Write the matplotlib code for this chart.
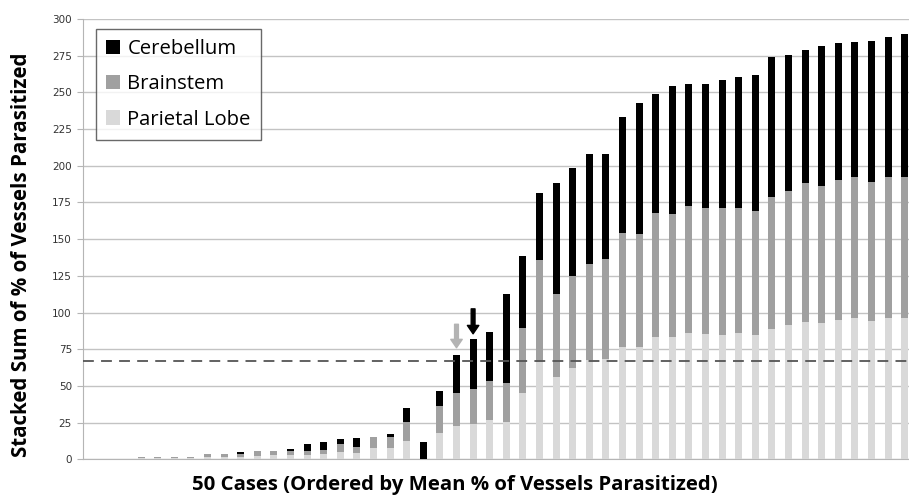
import matplotlib.pyplot as plt
import numpy as np

# segment values per case (50 cases, ordered by mean % of vessels parasitized)
parietal = [0, 0, 0, 1.0, 1.0, 1.0, 1.0, 1.5, 1.5, 1.7,
            2.5, 2.8, 3.0, 3.0, 3.5, 5.3, 4.6, 7.5, 7.5, 12.5,
            0, 18.2, 23.0, 24.0, 26.6, 25.7, 45.0, 66.6, 56.4, 62.5,
            67.7, 68.2, 76.8, 76.8, 83.6, 83.6, 86.3, 85.4, 84.7, 85.9,
            84.7, 89.0, 91.2, 93.8, 92.7, 95.0, 96.1, 94.3, 96.1, 96.1]
brainstem = [0, 0, 0, 0.5, 0.5, 0.5, 0.5, 2.0, 2.0, 1.7,
             3.0, 2.9, 2.5, 2.8, 2.5, 5.4, 4.1, 8.0, 7.8, 12.6,
             0, 18.4, 22.5, 23.7, 26.6, 26.6, 44.8, 69.1, 56.1, 62.3,
             65.5, 68.2, 77.3, 76.6, 84.1, 83.6, 86.4, 85.7, 86.4, 85.0,
             84.6, 89.5, 91.7, 94.5, 93.5, 95.3, 96.2, 94.5, 96.4, 96.1]
cerebellum = [0, 0, 0, 0, 0, 0, 0, 0, 0, 1.8,
              0, 0, 1.5, 4.5, 5.7, 3.2, 5.9, 0, 2.0, 9.7,
              11.6, 9.8, 25.7, 34.2, 33.4, 60.5, 48.4, 45.7, 75.5, 73.7,
              74.8, 71.8, 79.1, 89.7, 81.3, 87.3, 82.7, 84.6, 87.5, 89.5,
              92.5, 95.6, 92.5, 90.3, 95.1, 93.3, 92.2, 96.2, 95.1, 97.5]
threshold = 67.3
y_ticks = np.arange(0, 301, 25)

# arrows: (case index, start value, end value, colour)
arrows = [(22, 92, 76, '#b3b3b3'), (23, 102.5, 85.5, '#000000')]

cases = np.arange(len(parietal))
p = np.array(parietal)
b = np.array(brainstem)
c = np.array(cerebellum)

fig = plt.figure(figsize=(9.09, 4.97), dpi=100)
ax = fig.add_axes([83 / 909, 37.7 / 497, 830 / 909, 440.3 / 497])

width = 0.42
ax.bar(cases, c, width, bottom=p + b, color='#000000', label='Cerebellum', zorder=3)
ax.bar(cases, b, width, bottom=p, color='#a0a0a0', label='Brainstem', zorder=3)
ax.bar(cases, p, width, color='#d9d9d9', label='Parietal Lobe', zorder=3)

ax.axhline(threshold, color='#555555', lw=1.3, dashes=(6, 4), zorder=4)

for i, start, end, col in arrows:
    ax.annotate('', xy=(i, end), xytext=(i, start),
                arrowprops=dict(arrowstyle='simple,head_width=0.75,head_length=0.55,tail_width=0.25',
                                color=col, mutation_scale=11, shrinkA=0, shrinkB=0),
                zorder=5)

ax.set_xlim(-0.5, len(cases) - 0.5)
ax.set_ylim(0, 300)
ax.set_yticks(y_ticks)
ax.set_xticks([])
ax.yaxis.grid(True, color='#c3c3c3', lw=1)
ax.set_axisbelow(True)
for side in ['top', 'right']:
    ax.spines[side].set_visible(False)
for side in ['left', 'bottom']:
    ax.spines[side].set_color('#b5b5b5')
ax.tick_params(axis='y', length=4, color='#b5b5b5', labelsize=7.5, labelcolor='#333333', pad=4)

ax.set_ylabel('Stacked Sum of % of Vessels Parasitized', fontsize=14.8, fontweight='bold',
              family='Open Sans')
ax.yaxis.set_label_coords(-0.062, 0.464)
ax.set_xlabel('50 Cases (Ordered by Mean % of Vessels Parasitized)', fontsize=14.7,
              fontweight='bold', family='Open Sans')
ax.xaxis.set_label_coords(0.448, -0.035)

leg = ax.legend(loc='upper left', bbox_to_anchor=(13 / 830, 1 - 10 / 440.3),
                prop={'family': 'Open Sans', 'size': 14.6}, frameon=True, fancybox=False,
                edgecolor='#444444', handlelength=0.7, handleheight=0.7,
                handletextpad=0.35, labelspacing=0.75, borderpad=0.5, borderaxespad=0)
leg.get_frame().set_linewidth(1)

fig.savefig('out.png', dpi=100, facecolor='white')
